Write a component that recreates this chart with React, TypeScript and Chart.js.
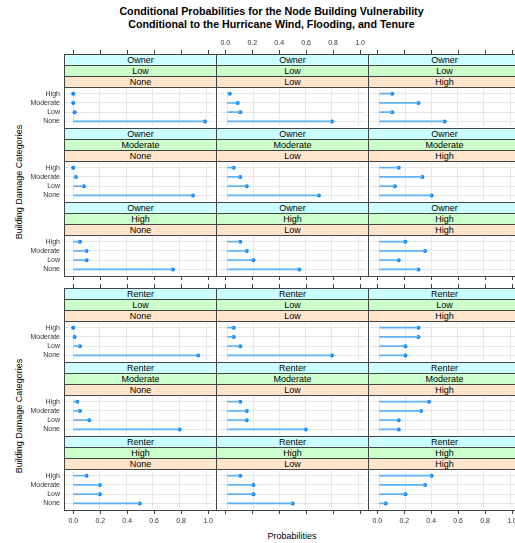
import React, { useEffect, useRef } from 'react';
import { Chart, registerables } from 'chart.js';

Chart.register(...registerables);

// ---------- data ----------
const TITLE_LINES = [
  'Conditional Probabilities for the Node Building Vulnerability',
  'Conditional to the Hurricane Wind, Flooding, and Tenure',
];
const X_TITLE = 'Probabilities';
const Y_TITLE = 'Building Damage Categories';
const TENURE = ['Owner', 'Renter'];
const FLOODING = ['Low', 'Moderate', 'High'];
const WIND = ['None', 'Low', 'High'];
const DAMAGE = ['High', 'Moderate', 'Low', 'None'];
const TICK_VALUES = [0, 0.2, 0.4, 0.6, 0.8, 1.0];

// each entry: one wind level (None, Low, High); values for [High, Moderate, Low, None]
const OWNER_LOW = [
  [0.0, 0.0, 0.01, 0.99],
  [0.02, 0.08, 0.1, 0.8],
  [0.1, 0.3, 0.1, 0.5],
];
const OWNER_MODERATE = [
  [0.0, 0.02, 0.08, 0.9],
  [0.05, 0.1, 0.15, 0.7],
  [0.15, 0.33, 0.12, 0.4],
];
const OWNER_HIGH = [
  [0.05, 0.1, 0.1, 0.75],
  [0.1, 0.15, 0.2, 0.55],
  [0.2, 0.35, 0.15, 0.3],
];
const RENTER_LOW = [
  [0.0, 0.01, 0.05, 0.94],
  [0.05, 0.05, 0.1, 0.8],
  [0.3, 0.3, 0.2, 0.2],
];
const RENTER_MODERATE = [
  [0.03, 0.05, 0.12, 0.8],
  [0.1, 0.15, 0.15, 0.6],
  [0.38, 0.32, 0.15, 0.15],
];
const RENTER_HIGH = [
  [0.1, 0.2, 0.2, 0.5],
  [0.1, 0.2, 0.2, 0.5],
  [0.4, 0.35, 0.2, 0.05],
];
const GROUPS = [
  [OWNER_LOW, OWNER_MODERATE, OWNER_HIGH],
  [RENTER_LOW, RENTER_MODERATE, RENTER_HIGH],
];

// ---------- styling / layout ----------
const FONT = "'Liberation Sans', Arial, Helvetica, sans-serif";
const X_MIN = -0.0693;
const X_MAX = 1.0593;
const COL_LEFT = [64, 216, 368];
const COL_W = 152;
const GROUP_TOP = [54, 288];
const BLOCK_H = 74;
const STRIP_H = 11;
const PLOT_H = BLOCK_H - 3 * STRIP_H;
const Y_AXIS_W = 40;
const AX_H = 20;
const STRIP_COLORS = ['#ccffff', '#ccffcc', '#ffe5cc'];
const BORDER = '#444';
const GRID_COLOR = '#e6e6e6';
const LINE_COLOR = '#5cb0f5';
const DOT_COLOR = '#0080ff';
const LABEL_COLOR = '#333';

Chart.defaults.font.family = FONT;

const setTicks = (s: any) => {
  s.ticks = TICK_VALUES.map((v) => ({ value: v }));
};

function panelConfig(values: number[], withLabels: boolean): any {
  return {
    type: 'bar',
    data: {
      labels: DAMAGE,
      datasets: [
        {
          type: 'bar',
          indexAxis: 'y',
          data: values,
          backgroundColor: LINE_COLOR,
          barThickness: 1,
          borderWidth: 0,
        },
        {
          type: 'line',
          indexAxis: 'y',
          data: values,
          showLine: false,
          pointRadius: 2,
          pointHoverRadius: 2,
          pointBorderWidth: 0,
          pointBackgroundColor: DOT_COLOR,
          borderColor: DOT_COLOR,
          clip: false,
        },
      ],
    },
    options: {
      indexAxis: 'y',
      animation: false,
      responsive: false,
      events: [],
      layout: { padding: 0 },
      plugins: { legend: { display: false }, tooltip: { enabled: false } },
      scales: {
        x: {
          type: 'linear',
          position: 'bottom',
          min: X_MIN,
          max: X_MAX,
          afterBuildTicks: setTicks,
          afterFit: (s: any) => {
            s.height = 0;
            s.paddingLeft = 0;
            s.paddingRight = 0;
          },
          ticks: { display: false },
          grid: { color: GRID_COLOR, drawTicks: false, lineWidth: 1 },
          border: { display: false },
        },
        y: {
          type: 'category',
          position: 'left',
          offset: true,
          afterFit: (s: any) => {
            s.width = withLabels ? Y_AXIS_W : 0;
            s.paddingTop = 0;
            s.paddingBottom = 0;
          },
          ticks: {
            display: withLabels,
            padding: 4,
            color: LABEL_COLOR,
            font: { size: 7, family: FONT },
            autoSkip: false,
          },
          grid: { offset: false, color: GRID_COLOR, drawTicks: false, lineWidth: 1 },
          border: { display: false },
        },
      },
    },
  };
}

function axisConfig(position: 'top' | 'bottom', showLabels: boolean): any {
  return {
    type: 'line',
    data: { datasets: [] },
    options: {
      animation: false,
      responsive: false,
      events: [],
      layout: { padding: 0 },
      plugins: { legend: { display: false }, tooltip: { enabled: false } },
      scales: {
        x: {
          type: 'linear',
          position,
          min: X_MIN,
          max: X_MAX,
          afterBuildTicks: setTicks,
          afterFit: (s: any) => {
            s.height = AX_H;
            s.paddingLeft = 0;
            s.paddingRight = 0;
          },
          ticks: {
            display: showLabels,
            autoSkip: false,
            maxRotation: 0,
            padding: 3,
            color: LABEL_COLOR,
            font: { size: 7, family: FONT },
            callback: (v: any) => Number(v).toFixed(1),
          },
          grid: {
            drawOnChartArea: false,
            drawTicks: true,
            tickLength: 4,
            tickColor: BORDER,
            color: BORDER,
            lineWidth: 1,
          },
          border: { display: false },
        },
        y: { display: false },
      },
    },
  };
}

function ChartCanvas(props: { left: number; top: number; width: number; height: number; z: number; make: () => any }) {
  const ref = useRef<HTMLCanvasElement>(null);
  useEffect(() => {
    const chart = new Chart(ref.current as HTMLCanvasElement, props.make());
    return () => chart.destroy();
  }, []);
  return (
    <canvas
      ref={ref}
      width={props.width}
      height={props.height}
      style={{
        position: 'absolute',
        left: props.left,
        top: props.top,
        width: props.width,
        height: props.height,
        zIndex: props.z,
      }}
    />
  );
}

function Strip(props: { left: number; top: number; color: string; text: string }) {
  return (
    <div
      style={{
        position: 'absolute',
        left: props.left,
        top: props.top,
        width: COL_W + 1,
        height: STRIP_H + 1,
        boxSizing: 'border-box',
        border: `1px solid ${BORDER}`,
        background: props.color,
        fontFamily: FONT,
        fontSize: 9,
        lineHeight: `${STRIP_H - 1}px`,
        textAlign: 'center',
        color: '#000',
        zIndex: 1,
        whiteSpace: 'nowrap',
      }}
    >
      {props.text}
    </div>
  );
}

export default function App() {
  const items: any[] = [];

  GROUPS.forEach((group, g) => {
    const gTop = GROUP_TOP[g];
    const gBottom = gTop + 3 * BLOCK_H;
    group.forEach((rowData, r) => {
      const bTop = gTop + r * BLOCK_H;
      const plotTop = bTop + 3 * STRIP_H;
      WIND.forEach((wind, c) => {
        const left = COL_LEFT[c];
        const labels = [TENURE[g], FLOODING[r], wind];
        labels.forEach((t, s) => {
          items.push(
            <Strip key={`s-${g}-${r}-${c}-${s}`} left={left} top={bTop + s * STRIP_H} color={STRIP_COLORS[s]} text={t} />
          );
        });
        const withLabels = c === 0;
        const values = rowData[c];
        items.push(
          <ChartCanvas
            key={`p-${g}-${r}-${c}`}
            left={withLabels ? left - Y_AXIS_W : left}
            top={plotTop}
            width={withLabels ? COL_W + Y_AXIS_W : COL_W}
            height={PLOT_H}
            z={2}
            make={() => panelConfig(values, withLabels)}
          />
        );
        items.push(
          <div
            key={`b-${g}-${r}-${c}`}
            style={{
              position: 'absolute',
              left,
              top: plotTop,
              width: COL_W + 1,
              height: PLOT_H + 1,
              boxSizing: 'border-box',
              border: `1px solid ${BORDER}`,
              zIndex: 3,
              pointerEvents: 'none',
            }}
          />
        );
      });
    });
    WIND.forEach((_w, c) => {
      items.push(
        <ChartCanvas
          key={`at-${g}-${c}`}
          left={COL_LEFT[c]}
          top={gTop - AX_H}
          width={COL_W}
          height={AX_H + 4}
          z={4}
          make={() => axisConfig('top', g === 0 && c === 1)}
        />
      );
      items.push(
        <ChartCanvas
          key={`ab-${g}-${c}`}
          left={COL_LEFT[c]}
          top={gBottom - 4}
          width={COL_W}
          height={AX_H + 4}
          z={4}
          make={() => axisConfig('bottom', g === 1 && c !== 1)}
        />
      );
    });
  });

  const yTitleCenters = [182, 416];

  return (
    <div
      style={{
        position: 'absolute',
        left: 0,
        top: 0,
        width: 515,
        height: 543,
        overflow: 'hidden',
        background: '#fff',
        fontFamily: FONT,
      }}
    >
      {TITLE_LINES.map((t, i) => (
        <div
          key={`t${i}`}
          style={{
            position: 'absolute',
            left: 0,
            width: 543,
            top: 5 + i * 13,
            textAlign: 'center',
            fontWeight: 'bold',
            fontSize: 10.7,
            lineHeight: '13px',
            color: '#000',
            whiteSpace: 'nowrap',
          }}
        >
          {t}
        </div>
      ))}
      {yTitleCenters.map((cy, i) => (
        <div
          key={`y${i}`}
          style={{
            position: 'absolute',
            left: 19 - 75,
            top: cy - 6,
            width: 150,
            height: 12,
            lineHeight: '12px',
            fontSize: 9,
            textAlign: 'center',
            color: '#000',
            transform: 'rotate(-90deg)',
            whiteSpace: 'nowrap',
          }}
        >
          {Y_TITLE}
        </div>
      ))}
      <div
        style={{
          position: 'absolute',
          left: 64,
          width: 456,
          top: 530,
          textAlign: 'center',
          fontSize: 9,
          lineHeight: '13px',
          color: '#000',
        }}
      >
        {X_TITLE}
      </div>
      {items}
    </div>
  );
}
